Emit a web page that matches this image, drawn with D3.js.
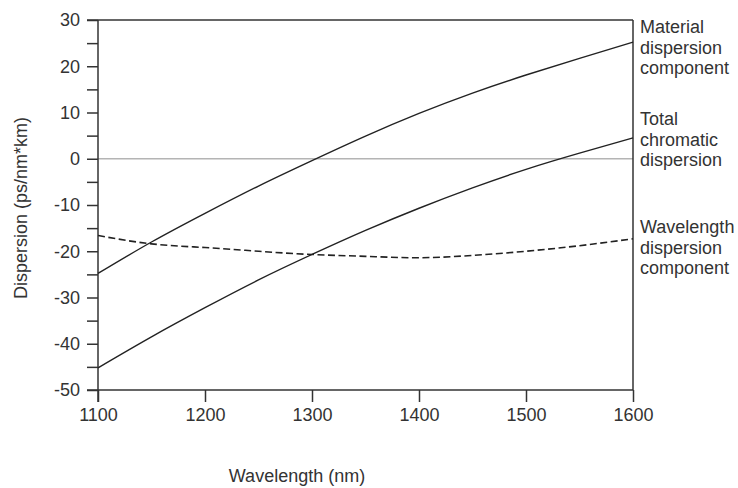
<!DOCTYPE html>
<html>
<head>
<meta charset="utf-8">
<script src="https://cdn.jsdelivr.net/npm/d3@7"></script>
<style>
  body { margin: 0; background: #fff; }
  text { font-family: "Liberation Sans", Arial, sans-serif; fill: #333; }
</style>
</head>
<body>
<div id="main"></div>
<script>

var wavelengths = [1100, 1150, 1200, 1250, 1300, 1350, 1400, 1450, 1500, 1550, 1600];

// ps/nm*km
var material = [-24.8, -18.0, -11.8, -5.9, -0.4, 4.9, 9.8, 14.2, 18.1, 21.7, 25.2];
var total = [-45.2, -38.5, -32.2, -26.2, -20.7, -15.5, -10.7, -6.3, -2.3, 1.2, 4.5];
var waveguide = [-16.6, -18.4, -19.2, -20.0, -20.7, -21.1, -21.4, -20.9, -20.0, -18.8, -17.3];

var seriesLabels = [
  ["Material", "dispersion", "component"],
  ["Total", "chromatic", "dispersion"],
  ["Wavelength", "dispersion", "component"]
];

var xTicks = [1100, 1200, 1300, 1400, 1500, 1600];
var yTicks = d3.range(-50, 31, 5);

var w = 738;
var h = 488;

window.onload = function () {

  var x = d3.scaleLinear().domain([1100, 1600]).range([98, 633]);
  var y = d3.scaleLinear().domain([-50, 30]).range([390, 20]);

  var svg = d3.select("#main").append("svg")
      .attr("width", w)
      .attr("height", h);

  // zero reference line
  svg.append("line")
      .attr("x1", x(1100)).attr("x2", x(1600))
      .attr("y1", y(0)).attr("y2", y(0))
      .attr("stroke", "#b4b4b4")
      .attr("stroke-width", 1.5);

  // axes
  var yAxis = d3.axisLeft(y)
      .tickValues(yTicks)
      .tickSize(11)
      .tickPadding(7)
      .tickFormat(function(d) { return d % 10 === 0 ? d : ""; });

  var xAxis = d3.axisBottom(x)
      .tickValues(xTicks)
      .tickSize(12)
      .tickPadding(6)
      .tickFormat(d3.format("d"));

  var gy = svg.append("g")
      .attr("transform", "translate(" + x(1100) + ",0)")
      .call(yAxis);

  var gx = svg.append("g")
      .attr("transform", "translate(0," + y(-50) + ")")
      .call(xAxis);

  [gx, gy].forEach(function(g) {
    g.select(".domain").remove();
    g.selectAll("line").attr("stroke", "#333").attr("stroke-width", 1.5);
    g.selectAll("text").attr("font-size", 18).attr("fill", "#333")
        .style("font-family", "'Liberation Sans', Arial, sans-serif");
  });

  // frame: axes cross at the lower left corner
  var frame = svg.append("g")
      .attr("stroke", "#333")
      .attr("stroke-width", 1.5)
      .attr("fill", "none");

  frame.append("line")
      .attr("x1", x(1100)).attr("x2", x(1100))
      .attr("y1", y(30)).attr("y2", y(-50) + 12);
  frame.append("line")
      .attr("x1", x(1100) - 11).attr("x2", x(1600))
      .attr("y1", y(-50)).attr("y2", y(-50));
  frame.append("line")
      .attr("x1", x(1100) - 11).attr("x2", x(1600))
      .attr("y1", y(30)).attr("y2", y(30));
  frame.append("line")
      .attr("x1", x(1600)).attr("x2", x(1600))
      .attr("y1", y(30)).attr("y2", y(-50));

  // curves
  var line = d3.line()
      .x(function(d) { return x(d[0]); })
      .y(function(d) { return y(d[1]); })
      .curve(d3.curveNatural);

  var series = [
    { values: material, dash: null, sw: 1.4 },
    { values: total, dash: null, sw: 1.4 },
    { values: waveguide, dash: "7,3.5", sw: 1.6 }
  ];

  series.forEach(function(s) {
    var pts = wavelengths.map(function(wl, i) { return [wl, s.values[i]]; });
    svg.append("path")
        .datum(pts)
        .attr("d", line)
        .attr("fill", "none")
        .attr("stroke", "#222")
        .attr("stroke-width", s.sw)
        .attr("stroke-dasharray", s.dash);
  });

  // labels at the right
  var labelTop = [33, 125, 233];
  seriesLabels.forEach(function(lines, i) {
    var t = svg.append("text")
        .attr("x", 640)
        .attr("y", labelTop[i])
        .attr("font-size", 18);
    lines.forEach(function(l, j) {
      t.append("tspan")
          .attr("x", 640)
          .attr("dy", j === 0 ? 0 : 20.5)
          .text(l);
    });
  });

  // axis titles
  svg.append("text")
      .attr("x", 297)
      .attr("y", 482)
      .attr("text-anchor", "middle")
      .attr("font-size", 18)
      .text("Wavelength (nm)");

  svg.append("text")
      .attr("transform", "translate(27,208) rotate(-90)")
      .attr("text-anchor", "middle")
      .attr("font-size", 18)
      .text("Dispersion (ps/nm*km)");
}

</script>
</body>
</html>
